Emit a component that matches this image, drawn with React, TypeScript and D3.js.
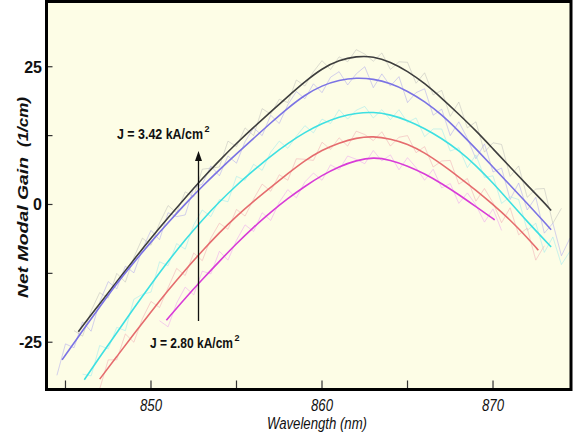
import React from "react";
import * as d3 from "d3";

const W = 580;
const H = 440;
const frame = { left: 46.5, right: 571, top: 1.5, bottom: 389.5 };

const xTicks = [845, 850, 855, 860, 865, 870];
const xTickLabels = [850, 860, 870];
const yTicks = [-25, -12.5, 0, 12.5, 25];
const yTickLabels = [-25, 0, 25];

// Fitted gain curves, lowest current density last
const blackFitWl = [845.75, 847, 848, 849, 850, 851, 852, 853, 854, 855, 856, 857, 858, 859, 860, 861, 862, 863, 864, 865, 866, 867, 868, 869, 870, 871, 872, 873, 873.4];
const blackFitGain = [-23.1, -18.0, -14.0, -10.0, -6.1, -2.4, 1.2, 4.7, 8.0, 11.1, 14.0, 16.8, 19.6, 22.3, 24.7, 26.2, 26.9, 26.9, 25.9, 24.2, 22.0, 19.3, 16.4, 13.4, 10.1, 6.8, 3.5, 0.3, -1.1];

const blueFitWl = [844.8, 846, 847, 848, 849, 850, 851, 852, 853, 854, 855, 856, 857, 858, 859, 860, 861, 862, 863, 864, 865, 866, 867, 868, 869, 870, 871, 872, 873, 873.4];
const blueFitGain = [-28.2, -22.9, -18.6, -14.3, -10.5, -6.8, -3.3, 0.1, 3.3, 6.3, 9.2, 12.0, 14.8, 17.5, 19.9, 21.6, 22.6, 23.0, 22.8, 22.0, 20.6, 18.7, 16.3, 13.3, 10.1, 6.8, 3.5, 0.2, -3.2, -4.6];

const cyanFitWl = [846.1, 847, 848, 849, 850, 851, 852, 853, 854, 855, 856, 857, 858, 859, 860, 861, 862, 863, 864, 865, 866, 867, 868, 869, 870, 871, 872, 873, 873.4];
const cyanFitGain = [-31.8, -27.7, -23.3, -18.8, -14.5, -10.3, -6.4, -2.8, 0.5, 3.5, 6.2, 8.8, 11.1, 13.1, 14.7, 15.9, 16.6, 16.8, 16.3, 15.3, 13.8, 12.0, 9.8, 7.1, 3.9, 0.4, -3.1, -6.4, -7.7];

const redFitWl = [847.0, 848, 849, 850, 851, 852, 853, 854, 855, 856, 857, 858, 859, 860, 861, 862, 863, 864, 865, 866, 867, 868, 869, 870, 871, 872, 872.65];
const redFitGain = [-31.7, -27.6, -23.5, -19.5, -15.6, -11.9, -8.4, -5.1, -2.1, 0.6, 3.1, 5.6, 8.0, 9.9, 11.2, 12.1, 12.4, 11.9, 11.0, 9.4, 7.3, 5.0, 2.6, 0.0, -2.8, -6.0, -8.3];

const magentaFitWl = [850.9, 852, 853, 854, 855, 856, 857, 858, 859, 860, 861, 862, 863, 864, 865, 866, 867, 868, 869, 870, 870.1];
const magentaFitGain = [-21.0, -17.0, -13.6, -10.3, -7.1, -4.1, -1.4, 1.1, 3.3, 5.3, 6.9, 8.0, 8.6, 8.1, 7.0, 5.6, 3.8, 1.8, -0.4, -2.6, -2.8];

// Measured spectra, sampled every 0.5 nm from their start wavelength
const sampleStep = 0.5;
const measuredStart = [845.5, 844.5, 846.0, 847.0, 850.5];

const blackMeasured = [-22.9, -23.9, -19.3, -16.0, -17.0, -12.5, -14.1, -9.6, -6.1, -7.4, -3.4, -0.2, -1.5, 2.3, 1.4, 6.4, 6.6, 6.8, 11.5, 10.5, 13.9, 12.5, 17.4, 16.4, 19.1, 18.5, 22.6, 21.5, 24.1, 26.1, 24.5, 26.8, 25.9, 28.1, 27.3, 26.0, 27.5, 24.5, 25.9, 25.8, 22.0, 23.9, 19.9, 20.7, 16.0, 18.6, 13.9, 15.0, 9.5, 11.2, 10.9, 5.1, 7.0, 1.3, 2.8, 2.9, -3.4, -0.7];

const blueMeasured = [-31.0, -25.3, -26.0, -21.3, -23.0, -17.7, -14.0, -15.3, -11.2, -12.4, -8.1, -4.7, -6.4, -1.5, -2.2, -1.9, 3.0, 3.7, 7.0, 5.2, 8.8, 7.5, 11.4, 13.9, 12.5, 16.2, 14.7, 18.1, 20.5, 19.2, 21.9, 20.3, 23.1, 24.1, 21.7, 23.7, 25.0, 21.2, 23.7, 21.5, 23.2, 18.5, 20.3, 21.0, 16.2, 17.3, 12.5, 15.0, 12.0, 8.3, 11.0, 5.9, 6.6, 0.9, 3.9, -1.0, 1.3, -5.2, -3.4, -9.3, -6.1];

const cyanMeasured = [-30.8, -31.1, -25.6, -26.2, -22.3, -22.9, -17.2, -16.3, -15.9, -10.4, -11.1, -7.1, -8.1, -3.7, -1.0, -2.2, 0.9, 0.5, 5.1, 4.4, 7.3, 6.2, 9.5, 11.5, 10.2, 12.4, 14.3, 13.0, 15.5, 14.7, 17.2, 15.5, 17.1, 17.8, 15.7, 17.2, 15.4, 17.2, 14.9, 15.7, 12.3, 13.7, 13.7, 9.7, 10.3, 6.7, 9.0, 4.9, 5.2, 0.2, 1.4, 0.9, -4.7, -3.4, -8.7, -5.9, -10.9, -8.5];

const redMeasured = [-33.5, -28.2, -28.2, -23.5, -25.0, -20.7, -17.6, -18.7, -15.1, -11.6, -12.9, -8.8, -10.2, -6.1, -3.4, -4.5, -0.9, -2.1, 1.0, 3.7, 2.4, 5.4, 4.4, 8.3, 8.2, 8.0, 11.3, 10.0, 12.1, 10.6, 13.3, 12.7, 11.6, 13.2, 10.6, 12.2, 12.5, 9.4, 10.5, 6.8, 7.9, 8.0, 3.7, 4.7, 0.6, 2.9, 0.3, -3.3, -0.6, -5.5, -4.3, -10.1, -7.5];

const magentaMeasured = [-21.1, -22.2, -17.9, -15.0, -16.4, -12.1, -12.6, -8.5, -10.1, -6.5, -3.7, -4.9, -1.5, -2.9, 0.4, 2.7, 1.2, 4.1, 5.7, 4.4, 7.2, 6.3, 8.8, 8.2, 7.4, 9.8, 7.9, 9.0, 6.3, 8.5, 6.7, 4.4, 6.4, 3.0, 3.8, 0.2, 2.1, -0.1, -3.2, -0.8, -4.7];

const fitColors = ["#3e3e3e", "#7b73e4", "#3ee0e2", "#e56c6e", "#d83cd8"];
const rawColors = ["#b4b4b4", "#a9a4f0", "#98eaf0", "#f2a8b2", "#eca6f0"];
const rawOpacity = [0.45, 0.5, 0.5, 0.5, 0.55];

const fits = [
  { wl: blackFitWl, gain: blackFitGain },
  { wl: blueFitWl, gain: blueFitGain },
  { wl: cyanFitWl, gain: cyanFitGain },
  { wl: redFitWl, gain: redFitGain },
  { wl: magentaFitWl, gain: magentaFitGain },
];
const measured = [blackMeasured, blueMeasured, cyanMeasured, redMeasured, magentaMeasured];

const x = d3.scaleLinear().domain([843.89, 874.56]).range([frame.left, frame.right]);
const y = d3.scaleLinear().domain([-33.58, 36.84]).range([frame.bottom, frame.top]);

type Pt = [number, number];
const fitLine = d3
  .line<Pt>()
  .x((d) => x(d[0]))
  .y((d) => y(d[1]))
  .curve(d3.curveBasis);
const rawLine = d3
  .line<Pt>()
  .x((d) => x(d[0]))
  .y((d) => y(d[1]));

const font = "'Liberation Sans', Arial, sans-serif";

export default function App() {
  return (
    <svg
      width={W}
      height={H}
      style={{ position: "absolute", left: 0, top: 0, background: "#ffffff" }}
      fontFamily={font}
    >
      <defs>
        <clipPath id="plot-clip">
          <rect
            x={frame.left}
            y={frame.top}
            width={frame.right - frame.left}
            height={frame.bottom - frame.top}
          />
        </clipPath>
      </defs>
      <rect
        x={frame.left}
        y={frame.top}
        width={frame.right - frame.left}
        height={frame.bottom - frame.top}
        fill="#fdfde6"
      />

      <g clipPath="url(#plot-clip)">
        {measured.map((vals, i) => {
          const pts: Pt[] = vals.map((g, k) => [measuredStart[i] + k * sampleStep, g]);
          return (
            <path
              key={"raw" + i}
              d={rawLine(pts) ?? ""}
              fill="none"
              stroke={rawColors[i]}
              strokeOpacity={rawOpacity[i]}
              strokeWidth={1}
            />
          );
        })}
        {fits.map((f, i) => {
          const pts: Pt[] = f.wl.map((w, k) => [w, f.gain[k]]);
          return (
            <path
              key={"fit" + i}
              d={fitLine(pts) ?? ""}
              fill="none"
              stroke={fitColors[i]}
              strokeWidth={1.6}
            />
          );
        })}
      </g>

      {/* ticks point inward */}
      {xTicks.map((t) => (
        <line
          key={"xt" + t}
          x1={x(t)}
          x2={x(t)}
          y1={frame.bottom}
          y2={frame.bottom - 9}
          stroke="#333"
          strokeWidth={1.2}
        />
      ))}
      {yTicks.map((t) => (
        <line
          key={"yt" + t}
          x1={frame.left}
          x2={frame.left + 6}
          y1={y(t)}
          y2={y(t)}
          stroke="#333"
          strokeWidth={1.2}
        />
      ))}

      <rect
        x={frame.left}
        y={frame.top}
        width={frame.right - frame.left}
        height={frame.bottom - frame.top}
        fill="none"
        stroke="#000"
        strokeWidth={3}
      />

      {xTickLabels.map((t) => (
        <text
          key={"xl" + t}
          x={x(t)}
          y={411}
          textAnchor="middle"
          fontSize={16}
          fontStyle="italic"
          fill="#111"
          textLength={22}
          lengthAdjust="spacingAndGlyphs"
        >
          {t}
        </text>
      ))}
      {yTickLabels.map((t) => (
        <text
          key={"yl" + t}
          x={42}
          y={y(t) + 6}
          textAnchor="end"
          fontSize={16}
          fontWeight="bold"
          fill="#111"
        >
          {t}
        </text>
      ))}

      <text
        x={317}
        y={429}
        textAnchor="middle"
        fontSize={16}
        fontStyle="italic"
        fill="#111"
        textLength={100}
        lengthAdjust="spacingAndGlyphs"
      >
        Wavelength (nm)
      </text>

      <g transform="translate(28, 298) rotate(-90)">
        <text
          x={0}
          y={0}
          fontSize={15}
          fontWeight="bold"
          fontStyle="italic"
          fill="#111"
          textLength={141}
          lengthAdjust="spacingAndGlyphs"
        >
          Net Modal Gain
        </text>
        <text
          x={151}
          y={0}
          fontSize={15}
          fontWeight="bold"
          fontStyle="italic"
          fill="#111"
          textLength={50}
          lengthAdjust="spacingAndGlyphs"
        >
          (1/cm)
        </text>
      </g>

      {/* current density direction */}
      <line x1={198.5} x2={198.5} y1={321} y2={160} stroke="#111" strokeWidth={1.3} />
      <path d="M198.5,151 L195,161 L202,161 Z" fill="#111" />

      <text x={117} y={139} fontSize={14} fontWeight="bold" fill="#111">
        <tspan textLength={86} lengthAdjust="spacingAndGlyphs">
          J = 3.42 kA/cm
        </tspan>
        <tspan fontSize={9} dx={1.5} dy={-7}>
          2
        </tspan>
      </text>
      <text x={150} y={348} fontSize={14} fontWeight="bold" fill="#111">
        <tspan textLength={83} lengthAdjust="spacingAndGlyphs">
          J = 2.80 kA/cm
        </tspan>
        <tspan fontSize={9} dx={1.5} dy={-7}>
          2
        </tspan>
      </text>
    </svg>
  );
}
